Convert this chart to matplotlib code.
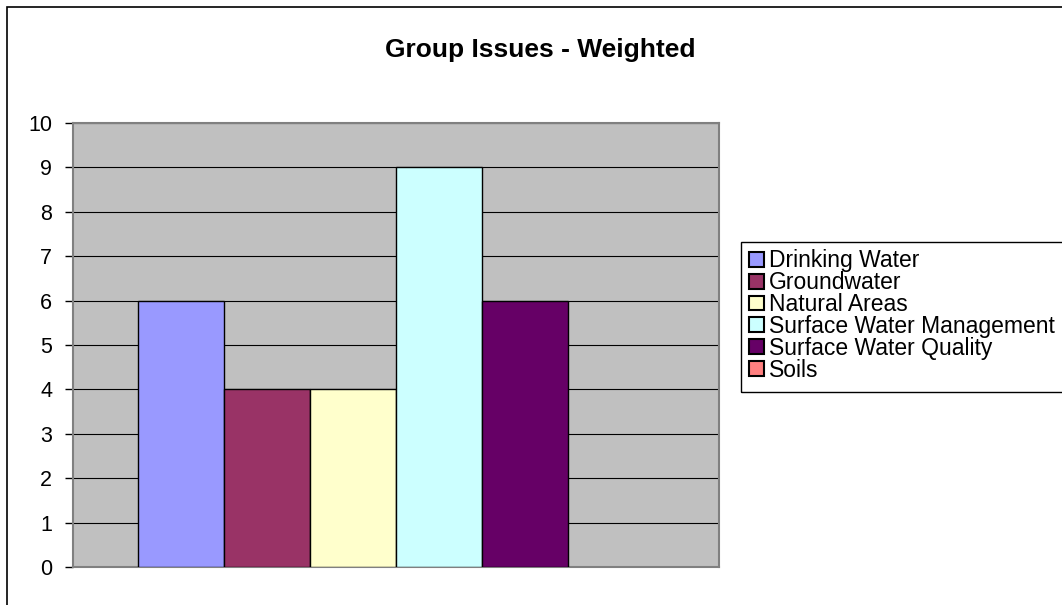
import matplotlib
matplotlib.use("Agg")
import matplotlib.pyplot as plt
from matplotlib.patches import Rectangle, Patch
import numpy as np

plt.rcParams["font.family"] = ["Liberation Sans", "DejaVu Sans"]

series = ["Drinking Water", "Groundwater", "Natural Areas",
          "Surface Water Management", "Surface Water Quality", "Soils"]
values = [6, 4, 4, 9, 6, 0]
colors = ["#9999FF", "#993366", "#FFFFCC", "#CCFFFF", "#660066", "#FF8080"]
yticks = list(range(0, 11))

W, H = 1062, 605
fig = plt.figure(figsize=(W / 100, H / 100), dpi=100)
fig.patch.set_facecolor("white")

# outer chart border (runs off the right and bottom edges)
fig.patches.append(Rectangle((7 / W, -0.01), 1.1, (H - 7) / H + 0.01,
                             transform=fig.transFigure, fill=False,
                             edgecolor="#000000", lw=1.2))
# legend box, also cut off at the right edge
fig.patches.append(Rectangle((741 / W, 1 - 392 / H), 0.5, 150 / H,
                             transform=fig.transFigure, fill=False,
                             edgecolor="#000000", lw=1.0))

ax = fig.add_axes([73 / W, (H - 567) / H, 646 / W, 444 / H])
ax.set_facecolor("#C0C0C0")

n = len(values)
x = np.arange(n)
for xi, v, c in zip(x, values, colors):
    ax.bar(xi, v, width=1.0, color=c, edgecolor="black",
           lw=1.0 if v > 0 else 0, zorder=3)

ax.set_xlim(-0.5 - 0.75, n - 0.5 + 0.75)
ax.set_ylim(0, 10)
ax.set_yticks(yticks)
ax.set_xticks([])
ax.grid(axis="y", color="black", lw=0.8, zorder=1)
for s in ax.spines.values():
    s.set_color("#808080")
    s.set_linewidth(1.5)
ax.tick_params(axis="y", labelsize=15.5, length=6, width=1, color="#000000", pad=9)

fig.text(540 / W, 1 - 57 / H, "Group Issues - Weighted", ha="center", va="baseline",
         fontsize=19, fontweight="bold")

handles = [Patch(facecolor=c, edgecolor="black", lw=1.5) for c in colors]
leg = ax.legend(handles, series, loc="upper left", bbox_to_anchor=(747 / W, 1 - 247 / H),
                bbox_transform=fig.transFigure, fontsize=16.5, frameon=False,
                handlelength=0.62, handleheight=0.62,
                handletextpad=0.25, labelspacing=-0.05, borderpad=0.1,
                borderaxespad=0)

fig.savefig("out.png", dpi=100)
